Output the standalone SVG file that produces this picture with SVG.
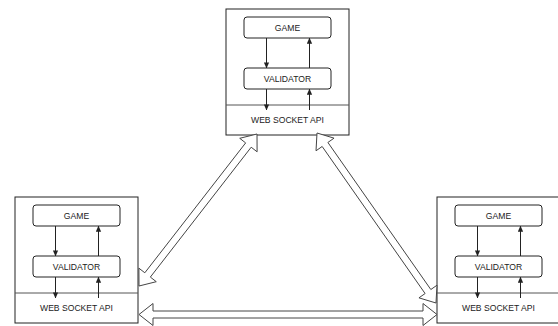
<svg xmlns="http://www.w3.org/2000/svg" width="558" height="326" viewBox="0 0 558 326">
  <style>
    .frame { fill: #ffffff; stroke: #222222; stroke-width: 1; }
    .divider { stroke: #555555; stroke-width: 1; fill: none; }
    .block { fill: #ffffff; stroke: #222222; stroke-width: 1; }
    .flow { stroke: #222222; stroke-width: 1; fill: none; marker-end: url(#tip); }
    .label { font-family: "Liberation Sans", Arial, sans-serif; font-size: 8.6px; fill: #222222; text-anchor: middle; }
    .link { fill: #ffffff; stroke: #444444; stroke-width: 1; stroke-linejoin: miter; }
  </style>
  <defs>
    <marker id="tip" viewBox="0 0 8 8" refX="7.5" refY="4" markerWidth="6" markerHeight="6" orient="auto" markerUnits="userSpaceOnUse">
      <path d="M0,0.5 L8,4 L0,7.5 Z" fill="#222222"/>
    </marker>
    <!-- one peer: outer frame, GAME, VALIDATOR and the socket strip -->
    <g id="peer-template">
      <rect class="frame" x="0" y="0" width="123" height="126"/>
      <line class="divider" x1="0" y1="96" x2="123" y2="96"/>
      <rect class="block" x="18" y="8" width="87" height="21" rx="3"/>
      <rect class="block" x="18" y="59" width="87" height="21" rx="3"/>
      <text class="label" x="61.5" y="21.5">GAME</text>
      <text class="label" x="61.5" y="72.5">VALIDATOR</text>
      <text class="label" x="61.5" y="113.5">WEB SOCKET API</text>
      <line class="flow" x1="40.5" y1="29" x2="40.5" y2="59"/>
      <line class="flow" x1="83.5" y1="59" x2="83.5" y2="29"/>
      <line class="flow" x1="40.5" y1="80" x2="40.5" y2="101"/>
      <line class="flow" x1="83.5" y1="101" x2="83.5" y2="80"/>
    </g>
  </defs>

  <g id="peer-top" transform="translate(226,9)">
    <use href="#peer-template"/>
  </g>
  <g id="peer-left" transform="translate(15,197)">
    <use href="#peer-template"/>
  </g>
  <g id="peer-right" transform="translate(437,197)">
    <use href="#peer-template"/>
  </g>

  <!-- two-way links between the socket APIs -->
  <g id="connectors">
    <polygon class="link" points="139,286 156.28,281.69 150.35,277.09 251.18,147.21 257.10,151.81 257,134 239.72,138.31 245.65,142.91 144.82,272.79 138.90,268.19"/>
    <polygon class="link" points="317,133 334.04,138.16 327.90,142.46 430.84,289.52 436.98,285.22 436,303 418.96,297.84 425.10,293.54 322.16,146.48 316.02,150.78"/>
    <polygon class="link" points="139,314.5 153,303.5 153,311 423,311 423,303.5 437,314.5 423,325.5 423,318 153,318 153,325.5"/>
  </g>
</svg>
